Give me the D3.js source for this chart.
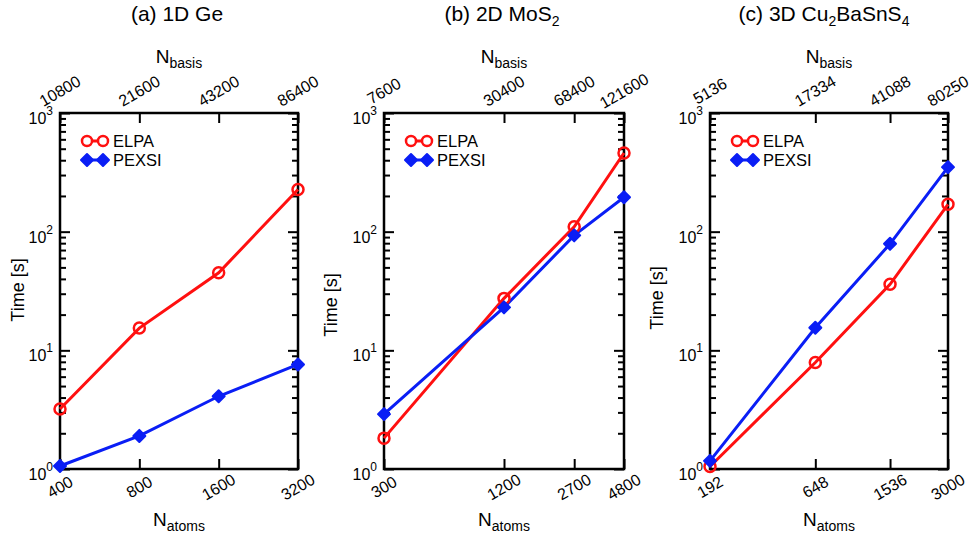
<!DOCTYPE html>
<html>
<head>
<meta charset="utf-8">
<script src="https://cdn.jsdelivr.net/npm/d3@7"></script>
<style>
  html, body { margin: 0; padding: 0; background: #fff; }
  svg { display: block; font-family: "Liberation Sans", Arial, Helvetica, sans-serif; }
</style>
</head>
<body>
<svg id="chart" width="971" height="538"></svg>
<script>
// ---------------- DATA ----------------
const panelTitles = [
  [["(a) 1D Ge", null]],
  [["(b) 2D MoS", null], ["2", "sub"]],
  [["(c) 3D Cu", null], ["2", "sub"], ["BaSnS", null], ["4", "sub"]]
];
const natomsA = [400, 800, 1600, 3200];
const nbasisA = [10800, 21600, 43200, 86400];
const elpaA   = [3.2, 15.4, 45, 227];
const pexsiA  = [1.06, 1.9, 4.1, 7.6];

const natomsB = [300, 1200, 2700, 4800];
const nbasisB = [7600, 30400, 68400, 121600];
const elpaB   = [1.82, 27.4, 110, 460];
const pexsiB  = [2.9, 23, 93, 195];

const natomsC = [192, 648, 1536, 3000];
const nbasisC = [5136, 17334, 41088, 80250];
const elpaC   = [1.05, 7.9, 36, 170];
const pexsiC  = [1.17, 15.5, 79, 350];

const yMajorTicks = [1, 10, 100, 1000];
const seriesNames = ["ELPA", "PEXSI"];

// ---------------- LAYOUT ----------------
const layout = [
  { left: 60,  right: 298, top: 113, bottom: 469, ylabX: 18,  ylabY: 290, titleX: 177 },
  { left: 384, right: 624, top: 113, bottom: 469, ylabX: 331, ylabY: 305, titleX: 502 },
  { left: 710, right: 948, top: 113, bottom: 469, ylabX: 657, ylabY: 298, titleX: 824 }
];
const panelData = [
  { natoms: natomsA, nbasis: nbasisA, elpa: elpaA, pexsi: pexsiA },
  { natoms: natomsB, nbasis: nbasisB, elpa: elpaB, pexsi: pexsiB },
  { natoms: natomsC, nbasis: nbasisC, elpa: elpaC, pexsi: pexsiC }
];
const RED = "#ff1010", BLUE = "#0a1ef5";

const svg = d3.select("#chart");

// minor ticks 2..9 per decade
const yMinorTicks = [];
for (let d = 0; d < yMajorTicks.length - 1; d++)
  for (let k = 2; k <= 9; k++) yMinorTicks.push(yMajorTicks[d] * k);

function diamondPath(s) {
  return `M0,${-s}L${s},0L0,${s}L${-s},0Z`;
}

panelData.forEach((pd, i) => {
  const L = layout[i];
  const g = svg.append("g");
  const cx = (L.left + L.right) / 2;

  const x = d3.scaleLog().domain([pd.natoms[0], pd.natoms[pd.natoms.length - 1]]).range([L.left, L.right]);
  const xTop = d3.scaleLog().domain([pd.nbasis[0], pd.nbasis[pd.nbasis.length - 1]]).range([L.left, L.right]);
  const y = d3.scaleLog().domain([1, 1000]).range([L.bottom, L.top]);

  // title
  const t = g.append("text").attr("x", L.titleX).attr("y", 21).attr("text-anchor", "middle")
    .attr("font-size", 21).attr("fill", "#000");
  panelTitles[i].forEach(([txt, kind], j) => {
    const ts = t.append("tspan").text(txt);
    if (kind === "sub") ts.attr("font-size", 14).attr("dy", 5);
    else if (j > 0) ts.attr("dy", -5);
  });

  // axes ticks
  const axStyle = sel => {
    sel.select(".domain").remove();
    sel.selectAll("line").attr("stroke", "#000").attr("stroke-width", 2);
    sel.selectAll("text").remove();
  };
  g.append("g").attr("transform", `translate(0,${L.bottom})`)
    .call(d3.axisBottom(x).tickValues(pd.natoms).tickSize(-10)).call(axStyle);
  g.append("g").attr("transform", `translate(0,${L.top})`)
    .call(d3.axisTop(xTop).tickValues(pd.nbasis).tickSize(-10)).call(axStyle);
  g.append("g").attr("transform", `translate(${L.left},0)`)
    .call(d3.axisLeft(y).tickValues(yMajorTicks).tickSize(-10)).call(axStyle);
  g.append("g").attr("transform", `translate(${L.left},0)`)
    .call(d3.axisLeft(y).tickValues(yMinorTicks).tickSize(-6)).call(axStyle);
  g.append("g").attr("transform", `translate(${L.right},0)`)
    .call(d3.axisRight(y).tickValues(yMajorTicks).tickSize(-10)).call(axStyle);
  g.append("g").attr("transform", `translate(${L.right},0)`)
    .call(d3.axisRight(y).tickValues(yMinorTicks).tickSize(-6)).call(axStyle);

  // frame
  g.append("rect").attr("x", L.left).attr("y", L.top)
    .attr("width", L.right - L.left).attr("height", L.bottom - L.top)
    .attr("fill", "none").attr("stroke", "#000").attr("stroke-width", 2.5);

  // bottom tick labels
  pd.natoms.forEach(v => {
    g.append("text").attr("transform", `translate(${x(v)},${L.bottom + 18}) rotate(-30)`)
      .attr("text-anchor", "middle").attr("dominant-baseline", "central")
      .attr("font-size", 16).text(v);
  });
  // top tick labels
  pd.nbasis.forEach(v => {
    g.append("text").attr("transform", `translate(${xTop(v)},${L.top - 22}) rotate(-30)`)
      .attr("text-anchor", "middle").attr("dominant-baseline", "central")
      .attr("font-size", 16).text(v);
  });
  // y tick labels
  yMajorTicks.forEach(v => {
    const tx = g.append("text").attr("x", L.left - 7).attr("y", y(v) + 11)
      .attr("text-anchor", "end").attr("font-size", 16);
    tx.append("tspan").text("10");
    tx.append("tspan").attr("font-size", 12).attr("dy", -9).text(Math.round(Math.log10(v)));
  });

  // axis labels
  const nb = g.append("text").attr("x", cx).attr("y", 63).attr("text-anchor", "middle").attr("font-size", 19);
  nb.append("tspan").text("N");
  nb.append("tspan").attr("font-size", 14).attr("dy", 5).text("basis");
  const na = g.append("text").attr("x", cx).attr("y", 526).attr("text-anchor", "middle").attr("font-size", 19);
  na.append("tspan").text("N");
  na.append("tspan").attr("font-size", 14).attr("dy", 5).text("atoms");
  g.append("text").attr("transform", `translate(${L.ylabX},${L.ylabY}) rotate(-90)`)
    .attr("text-anchor", "middle").attr("dominant-baseline", "central")
    .attr("font-size", 18).text("Time [s]");

  // series
  const line = d3.line().x(d => x(d[0])).y(d => y(d[1]));
  const elpaPts = pd.natoms.map((n, k) => [n, pd.elpa[k]]);
  const pexsiPts = pd.natoms.map((n, k) => [n, pd.pexsi[k]]);
  g.append("path").datum(elpaPts).attr("d", line).attr("fill", "none")
    .attr("stroke", RED).attr("stroke-width", 3);
  g.append("path").datum(pexsiPts).attr("d", line).attr("fill", "none")
    .attr("stroke", BLUE).attr("stroke-width", 3);
  g.selectAll(".ec").data(elpaPts).join("circle")
    .attr("cx", d => x(d[0])).attr("cy", d => y(d[1])).attr("r", 5.5)
    .attr("fill", "none").attr("stroke", RED).attr("stroke-width", 2.5);
  g.selectAll(".pd").data(pexsiPts).join("path")
    .attr("transform", d => `translate(${x(d[0])},${y(d[1])})`)
    .attr("d", diamondPath(6)).attr("fill", BLUE).attr("stroke", BLUE)
    .attr("stroke-width", 2).attr("stroke-linejoin", "round");

  // legend
  const lx1 = L.left + 27, lx2 = L.left + 43, ltx = L.left + 53;
  const ly = [141, 160];
  seriesNames.forEach((name, k) => {
    const col = k === 0 ? RED : BLUE;
    g.append("line").attr("x1", lx1).attr("x2", lx2).attr("y1", ly[k]).attr("y2", ly[k])
      .attr("stroke", col).attr("stroke-width", 3);
    [lx1, lx2].forEach(px => {
      if (k === 0) {
        g.append("circle").attr("cx", px).attr("cy", ly[k]).attr("r", 5)
          .attr("fill", "#fff").attr("stroke", col).attr("stroke-width", 2.5);
      } else {
        g.append("path").attr("transform", `translate(${px},${ly[k]})`)
          .attr("d", diamondPath(6)).attr("fill", col).attr("stroke", col)
          .attr("stroke-width", 2).attr("stroke-linejoin", "round");
      }
    });
    g.append("text").attr("x", ltx).attr("y", ly[k] + 6).attr("font-size", 16.5).text(name);
  });
});
</script>
</body>
</html>
